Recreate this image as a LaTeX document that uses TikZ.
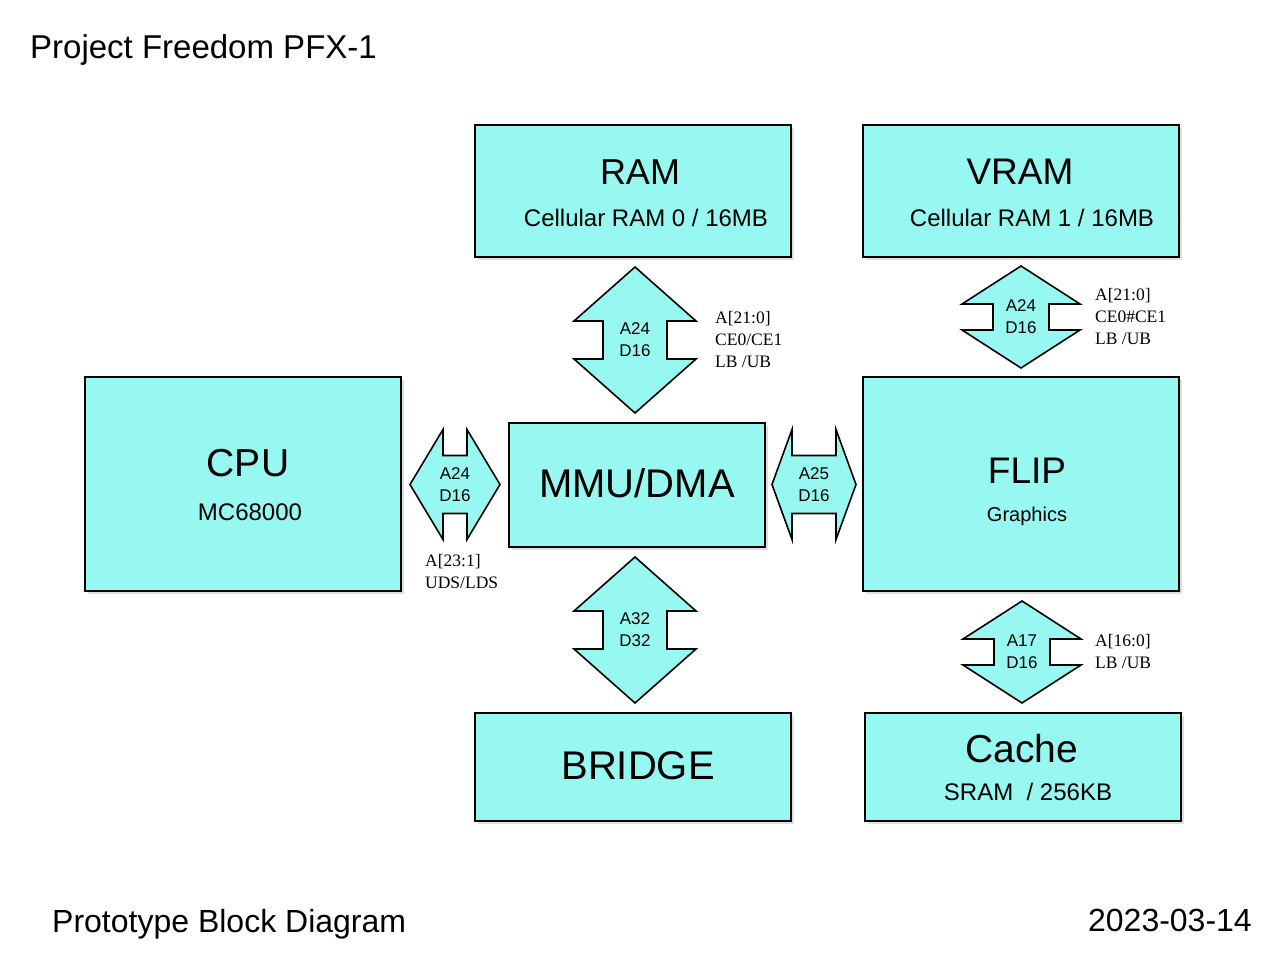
\documentclass[tikz,border=0pt]{standalone}
\usepackage{fontspec}
\setmainfont{Liberation Sans}
\newfontfamily\notefont{Liberation Serif}
\usetikzlibrary{calc,shadows}

\definecolor{aqua}{RGB}{150,248,240}
\newcommand{\fsz}[1]{\fontsize{#1}{#1}\selectfont}

\tikzset{
  blk/.style={draw, line width=2pt, fill=aqua,
    drop shadow={shadow xshift=3pt, shadow yshift=-3pt, opacity=0.25}},
  ttl/.style={anchor=base, inner sep=0pt},
  bus/.style={draw, line width=1.6pt, fill=aqua, line join=miter},
  buslbl/.style={align=center, inner sep=0pt, font=\fontsize{17}{22}\selectfont},
  sidelbl/.style={anchor=west, align=left, inner sep=0pt,
    font=\notefont\fontsize{17.5}{22}\selectfont},
  pics/vbus/.style args={#1/#2/#3/#4}{code={
    \draw[bus] (0,-#1) -- (#3,-#1+#2) -- (#4,-#1+#2) -- (#4,#1-#2) -- (#3,#1-#2)
      -- (0,#1) -- (-#3,#1-#2) -- (-#4,#1-#2) -- (-#4,-#1+#2) -- (-#3,-#1+#2) -- cycle;
  }},
  pics/hbus/.style args={#1/#2/#3/#4}{code={
    \draw[bus] (-#1,0) -- (-#1+#2,-#3) -- (-#1+#2,-#4) -- (#1-#2,-#4) -- (#1-#2,-#3)
      -- (#1,0) -- (#1-#2,#3) -- (#1-#2,#4) -- (-#1+#2,#4) -- (-#1+#2,#3) -- cycle;
  }},
}

\begin{document}
\begin{tikzpicture}[x=1pt,y=-1pt]
  \fill[white] (0,0) rectangle (1280,960);
  \useasboundingbox (0,0) rectangle (1280,960);

  % blocks
  \node[blk, minimum width=316pt, minimum height=132pt] (ram) at (633,191) {};
  \node[blk, minimum width=316pt, minimum height=132pt] (vram) at (1021,191) {};
  \node[blk, minimum width=316pt, minimum height=214pt] (cpu) at (243,484) {};
  \node[blk, minimum width=256pt, minimum height=124pt] (mmu) at (637,485) {};
  \node[blk, minimum width=316pt, minimum height=214pt] (flip) at (1021,484) {};
  \node[blk, minimum width=316pt, minimum height=108pt] (bridge) at (633,767) {};
  \node[blk, minimum width=316pt, minimum height=108pt] (cache) at (1023,767) {};

  % block texts
  \node[ttl, font=\fsz{36}] (ramT) at (640,185) {RAM};
  \node[ttl, font=\fsz{24}] (ramS) at (646,226.6) {Cellular RAM 0 / 16MB};
  \node[ttl, font=\fsz{37}] (vramT) at (1020,185) {VRAM};
  \node[ttl, font=\fsz{24}] (vramS) at (1032,226.6) {Cellular RAM 1 / 16MB};
  \node[ttl, font=\fsz{39}] (cpuT) at (248,476) {CPU};
  \node[ttl, font=\fsz{24}] (cpuS) at (250,520.6) {MC68000};
  \node[ttl, font=\fsz{40}] (mmuT) at (637,497.3) {MMU/DMA};
  \node[ttl, font=\fsz{37}] (flipT) at (1027,483) {FLIP};
  \node[ttl, font=\fsz{20}] (flipS) at (1027,521) {Graphics};
  \node[ttl, font=\fsz{40}] (bridgeT) at (638,779) {BRIDGE};
  \node[ttl, font=\fsz{39}] (cacheT) at (1022,762) {Cache};
  \node[ttl, font=\fsz{24}] (cacheS) at (1028,800.6) {SRAM~ / 256KB};

  % buses
  \coordinate (bRam) at ($(ram.south)!0.5!(mmu.north)$);
  \coordinate (bVram) at ($(vram.south)!0.5!(flip.north)$);
  \coordinate (bCpu) at ($(cpu.east)!0.5!(mmu.west)$);
  \coordinate (bFlip) at ($(mmu.east)!0.5!(flip.west)$);
  \coordinate (bBridge) at ($(mmu.south)!0.5!(bridge.north)$);
  \coordinate (bCache) at ($(flip.south)!0.5!(cache.north)$);

  \pic at (bRam) {vbus=73/54/61/32};
  \pic at (bBridge) {vbus=73/54/61/32};
  \pic at (bVram) {vbus=51/38/59/28};
  \pic at (bCache) {vbus=51/38/59/28};
  \pic at (bCpu) {hbus=45/33/55/29};
  \pic at (bFlip) {hbus=42/20/55/29};

  \node[buslbl] (bRamL) at (bRam) {A24\\D16};
  \node[buslbl] (bBridgeL) at (bBridge) {A32\\D32};
  \node[buslbl] (bVramL) at (bVram) {A24\\D16};
  \node[buslbl] (bCacheL) at (bCache) {A17\\D16};
  \node[buslbl] (bCpuL) at (bCpu) {A24\\D16};
  \node[buslbl] (bFlipL) at (bFlip) {A25\\D16};

  \node[sidelbl] (bRamN) at ([xshift=80pt]bRam) {A[21:0]\\CE0/CE1\\LB /UB};
  \node[sidelbl] (bVramN) at ([xshift=74pt]bVram) {A[21:0]\\CE0\#CE1\\LB /UB};
  \node[sidelbl] (bCacheN) at ([xshift=73pt]bCache) {A[16:0]\\LB /UB};
  \node[sidelbl] (bCpuN) at ([xshift=-30pt,yshift=-87.5pt]bCpu) {A[23:1]\\UDS/LDS};

  % captions
  \node[anchor=base west, inner sep=0pt, font=\fsz{33}] (head) at (30,59) {Project Freedom PFX-1};
  \node[anchor=base west, inner sep=0pt, font=\fsz{32}] (foot) at (52,932) {Prototype Block Diagram};
  \node[anchor=base east, inner sep=0pt, font=\fsz{32}] (date) at (1252,931.5) {2023-03-14};
\end{tikzpicture}
\end{document}
